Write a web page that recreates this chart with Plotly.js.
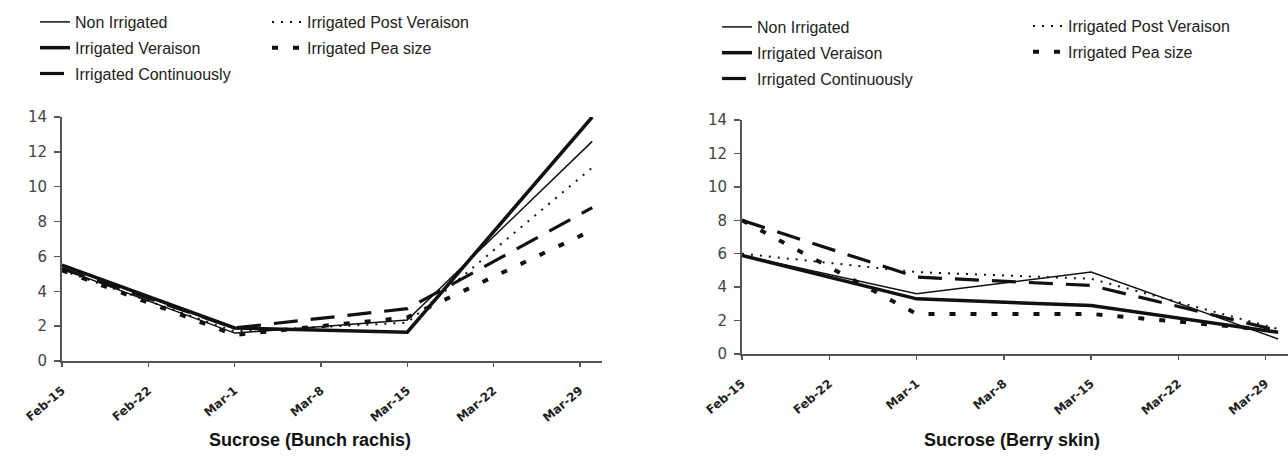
<!DOCTYPE html>
<html>
<head>
<meta charset="utf-8">
<script src="https://cdn.plot.ly/plotly-3.0.1.min.js"></script>
<style>html,body{margin:0;padding:0;background:#fff;}#chart{width:1288px;height:457px;}</style>
</head>
<body>
<div id="chart"></div>
<script>
// Sampling dates (year is arbitrary, non-leap)
var sampleDates = ['2001-02-15', '2001-03-01', '2001-03-15', '2001-03-30'];

// Weekly tick positions and their labels
var tickDates  = ['2001-02-15', '2001-02-22', '2001-03-01', '2001-03-08', '2001-03-15', '2001-03-22', '2001-03-29'];
var tickLabels = ['Feb-15', 'Feb-22', 'Mar-1', 'Mar-8', 'Mar-15', 'Mar-22', 'Mar-29'];

// Sucrose (Bunch rachis)
var rachisNonIrrigated   = [5.3, 1.6, 2.35, 12.6];
var rachisVeraison       = [5.5, 1.9, 1.65, 14.0];
var rachisContinuously   = [5.3, 1.9, 3.0, 8.8];
var rachisPostVeraison   = [5.2, 1.7, 2.2, 11.1];
var rachisPeaSize        = [5.2, 1.5, 2.5, 7.5];

// Sucrose (Berry skin)
var skinNonIrrigated     = [5.9, 3.6, 4.9, 0.9];
var skinVeraison         = [5.9, 3.3, 2.9, 1.3];
var skinContinuously     = [8.0, 4.6, 4.1, 1.4];
var skinPostVeraison     = [6.0, 4.9, 4.5, 1.5];
var skinPeaSize          = [8.0, 2.4, 2.4, 1.4];

var seriesNames = ['Non Irrigated', 'Irrigated Veraison', 'Irrigated Continuously',
                   'Irrigated Post Veraison', 'Irrigated Pea size'];

var styles = [
  {width: 1.5, dash: 'solid'},
  {width: 3.5, dash: 'solid'},
  {width: 3.2, dash: '24px,13px'},
  {width: 2, dash: '2px,7px'},
  {width: 4, dash: '6px,15px'}
];

function mk(y, i, xa, ya, leg) {
  return {
    x: sampleDates, y: y, type: 'scatter', mode: 'lines',
    name: seriesNames[i], xaxis: xa, yaxis: ya, legend: leg,
    legendgroup: xa + i,
    line: {color: '#111', width: styles[i].width, dash: styles[i].dash},
    hoverinfo: 'x+y+name'
  };
}

var left = [rachisNonIrrigated, rachisVeraison, rachisContinuously, rachisPostVeraison, rachisPeaSize];
var right = [skinNonIrrigated, skinVeraison, skinContinuously, skinPostVeraison, skinPeaSize];
var traces = [];
left.forEach(function (y, i) { traces.push(mk(y, i, 'x', 'y', i < 3 ? 'legend' : 'legend2')); });
right.forEach(function (y, i) { traces.push(mk(y, i, 'x2', 'y2', i < 3 ? 'legend3' : 'legend4')); });

var W = 1288, H = 457;
var xTickFont = {family: 'DejaVu Sans, Verdana, sans-serif', size: 12, color: '#222', weight: 'bold'};
var yTickFont = {family: 'DejaVu Sans, Verdana, sans-serif', size: 15, color: '#444'};

function xax(dom, anchor) {
  return {
    domain: dom, anchor: anchor, type: 'date', range: ['2001-02-15', '2001-03-30 19:00'],
    tickmode: 'array', tickvals: tickDates, ticktext: tickLabels, tickangle: -40,
    ticklabelstandoff: 12,
    showgrid: false, zeroline: false, showline: true, linecolor: '#555', linewidth: 2,
    ticks: 'outside', ticklen: 4, tickcolor: '#555', tickwidth: 1.5,
    tickfont: xTickFont, fixedrange: true
  };
}
function yax(dom, anchor) {
  return {
    domain: dom, anchor: anchor, range: [0, 14], dtick: 2, tick0: 0,
    showgrid: false, zeroline: false, showline: true, linecolor: '#555', linewidth: 2,
    ticks: 'outside', ticklen: 6, tickcolor: '#555', tickwidth: 1.5,
    ticklabelstandoff: 4,
    tickfont: yTickFont, fixedrange: true
  };
}

var legFont = {family: 'Liberation Sans, Arial, sans-serif', size: 16, color: '#222'};
function leg(xpx, ypx) {
  return {
    x: xpx / W, y: 1 - ypx / H, xanchor: 'left', yanchor: 'top',
    orientation: 'v', font: legFont, bgcolor: 'rgba(0,0,0,0)', borderwidth: 0,
    traceorder: 'grouped', tracegroupgap: 2, itemwidth: 30
  };
}

var titleFont = {family: 'Liberation Sans, Arial, sans-serif', size: 18, color: '#111', weight: 'bold'};

var layout = {
  width: W, height: H,
  margin: {l: 0, r: 0, t: 0, b: 0},
  paper_bgcolor: '#fff', plot_bgcolor: '#fff',
  showlegend: true,
  xaxis: xax([62 / W, 602 / W], 'y'),
  yaxis: yax([(H - 361) / H, (H - 117) / H], 'x'),
  xaxis2: xax([742 / W, 1], 'y2'),
  yaxis2: yax([(H - 354) / H, (H - 120) / H], 'x2'),
  legend: leg(35, 5),
  legend2: leg(267, 5),
  legend3: leg(717, 10),
  legend4: leg(1028, 9),
  annotations: [
    {text: 'Sucrose (Bunch rachis)', xref: 'paper', yref: 'paper', x: 310 / W, y: 1 - 440 / H,
     xanchor: 'center', yanchor: 'middle', showarrow: false, font: titleFont},
    {text: 'Sucrose (Berry skin)', xref: 'paper', yref: 'paper', x: 1012 / W, y: 1 - 440 / H,
     xanchor: 'center', yanchor: 'middle', showarrow: false, font: titleFont}
  ]
};

Plotly.newPlot('chart', traces, layout, {displayModeBar: false, staticPlot: true});
</script>
</body>
</html>
